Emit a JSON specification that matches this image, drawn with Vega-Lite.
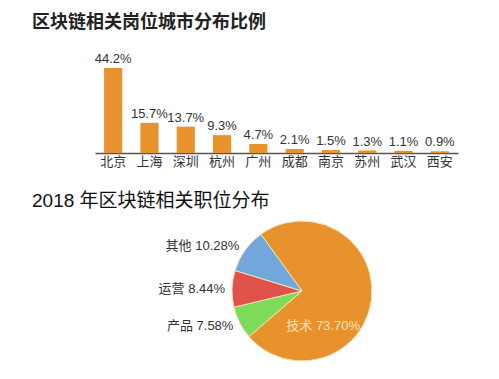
{
  "$schema": "https://vega.github.io/schema/vega-lite/v6.json",
  "padding": {"left": 32, "top": 13, "right": 0, "bottom": 0},
  "background": "white",
  "spacing": 24,
  "config": {
    "view": {"stroke": null},
    "font": "Liberation Sans, Noto Sans CJK SC",
    "title": {"anchor": "start", "frame": "group", "fontSize": 18, "fontWeight": "bold", "color": "#222", "font": "Noto Sans CJK SC", "dx": -74}
  },
  "vconcat": [
    {
      "title": {"text": "区块链相关岗位城市分布比例", "offset": 21},
      "width": 352,
      "height": 100,
      "data": {"values": [
        {"city": "北京", "value": 44.2, "label": "44.2%"},
        {"city": "上海", "value": 15.7, "label": "15.7%"},
        {"city": "深圳", "value": 13.7, "label": "13.7%"},
        {"city": "杭州", "value": 9.3, "label": "9.3%"},
        {"city": "广州", "value": 4.7, "label": "4.7%"},
        {"city": "成都", "value": 2.1, "label": "2.1%"},
        {"city": "南京", "value": 1.5, "label": "1.5%"},
        {"city": "苏州", "value": 1.3, "label": "1.3%"},
        {"city": "武汉", "value": 1.1, "label": "1.1%"},
        {"city": "西安", "value": 0.9, "label": "0.9%"}
      ]},
      "encoding": {
        "x": {"field": "city", "type": "nominal", "sort": null,
          "scale": {"range": [-11, 352], "paddingInner": 0.5, "paddingOuter": 0.25},
          "axis": {"title": null, "labelAngle": 0, "ticks": false, "domainColor": "#555", "domainWidth": 1.5, "labelFontSize": 13, "labelColor": "#333", "labelPadding": 2, "labelFont": "Noto Sans CJK SC"}},
        "y": {"field": "value", "type": "quantitative", "scale": {"domain": [0, 52]}, "axis": null}
      },
      "layer": [
        {"mark": {"type": "bar", "color": "#E8922E"}},
        {"mark": {"type": "text", "baseline": "bottom", "dy": -2, "fontSize": 13, "color": "#333"},
         "encoding": {"text": {"field": "label"}}}
      ]
    },
    {
      "title": {"text": "2018 年区块链相关职位分布", "offset": 5, "fontWeight": "normal", "color": "#111", "font": "Liberation Sans, Noto Sans CJK SC", "fontSize": 19},
      "width": 392,
      "height": 150,
      "data": {"values": [
        {"category": "技术", "value": 73.70, "order": 1, "label": "技术 73.70%"},
        {"category": "产品", "value": 7.58, "order": 2, "label": "产品 7.58%"},
        {"category": "运营", "value": 8.44, "order": 3, "label": "运营 8.44%"},
        {"category": "其他", "value": 10.28, "order": 4, "label": "其他 10.28%"}
      ]},
      "encoding": {
        "theta": {"field": "value", "type": "quantitative", "stack": true, "scale": {"range": [-0.628, 5.655]}},
        "order": {"field": "order", "type": "quantitative"}
      },
      "layer": [
        {"mark": {"type": "arc", "outerRadius": 70, "stroke": "#F4E4B8", "strokeWidth": 1},
         "encoding": {"color": {"field": "category", "type": "nominal",
           "scale": {"domain": ["技术", "产品", "运营", "其他"], "range": ["#E8922E", "#7EDB5A", "#E0534B", "#72A7DC"]}, "legend": null}}},
        {"mark": {"type": "text", "radius": 77, "align": "right", "baseline": "middle", "fontSize": 13, "color": "#333"},
         "encoding": {"text": {"field": "label"},
           "opacity": {"condition": {"test": "datum.category === '技术'", "value": 0}, "value": 1}}},
        {"mark": {"type": "text", "radius": 41, "thetaOffset": 0.913, "align": "center", "baseline": "middle", "fontSize": 13, "color": "#FBE3B8"},
         "encoding": {"text": {"field": "label"},
           "opacity": {"condition": {"test": "datum.category === '技术'", "value": 1}, "value": 0}}}
      ]
    }
  ]
}
